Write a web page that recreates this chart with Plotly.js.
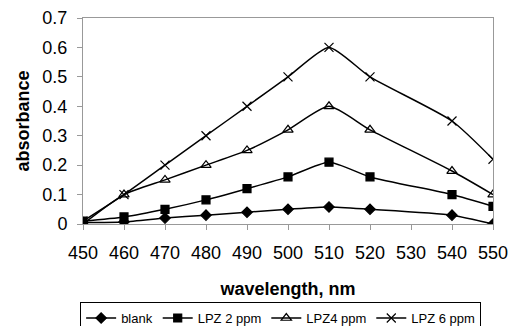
<!DOCTYPE html>
<html><head><meta charset="utf-8">
<script src="https://cdn.plot.ly/plotly-3.0.1.min.js"></script>
<style>html,body{margin:0;padding:0;background:#fff}</style>
</head><body><div id="chart" style="width:512px;height:326px"></div>
<script>
var wavelength = [450, 460, 470, 480, 490, 500, 510, 520, 540, 550];
var blank   = [0.005, 0.007, 0.02, 0.03, 0.04, 0.05, 0.058, 0.05, 0.03, 0.0];
var lpz2    = [0.01, 0.024, 0.05, 0.082, 0.12, 0.16, 0.21, 0.16, 0.1, 0.06];
var lpz4    = [0.0, 0.1, 0.15, 0.2, 0.25, 0.32, 0.4, 0.32, 0.18, 0.1];
var lpz6    = [0.01, 0.1, 0.2, 0.3, 0.4, 0.5, 0.6, 0.5, 0.35, 0.22];
var seriesNames = ['blank', 'LPZ 2 ppm', 'LPZ4 ppm', 'LPZ 6 ppm'];
var xTicks = [450, 460, 470, 480, 490, 500, 510, 520, 530, 540, 550];

function tr(y, name, sym, size, fill) {
  return {x: wavelength, y: y, name: name, type: 'scatter', mode: 'lines+markers',
    line: {color: '#000', width: 1.5, shape: 'spline', smoothing: 0.6},
    marker: {symbol: sym, size: size, color: fill, line: {color: '#000', width: 1.2}}};
}
var data = [
  tr(blank, seriesNames[0], 'diamond', 8, '#000'),
  tr(lpz2, seriesNames[1], 'square', 8, '#000'),
  tr(lpz4, seriesNames[2], 'triangle-up-open', 9, '#000'),
  tr(lpz6, seriesNames[3], 'x-thin-open', 9, '#000')
];
var font = 'Liberation Sans, Arial, sans-serif';
var layout = {
  width: 512, height: 326,
  margin: {l: 83, r: 19, t: 18, b: 102, autoexpand: false},
  paper_bgcolor: '#fff', plot_bgcolor: '#fff',
  font: {family: font, color: '#000', size: 18},
  showlegend: true,
  xaxis: {range: [450, 550], tickvals: xTicks, ticktext: xTicks.map(String),
    showgrid: false, zeroline: false, showline: true, linecolor: '#999', linewidth: 1, mirror: true,
    ticks: 'outside', ticklen: 5, tickcolor: '#999', tickfont: {size: 18, family: font},
    ticklabelstandoff: 7,
    title: {text: '<b>wavelength, nm</b>', font: {size: 18, family: font}, standoff: 20}},
  yaxis: {range: [0, 0.7], dtick: 0.1, tick0: 0,
    showgrid: false, zeroline: false, showline: true, linecolor: '#999', linewidth: 1, mirror: true,
    ticks: 'outside', ticklen: 5, tickcolor: '#999', tickfont: {size: 18, family: font},
    ticklabelstandoff: 6,
    title: {text: '<b>absorbance</b>', font: {size: 18, family: font}, standoff: 8}},
  legend: {orientation: 'h', x: -0.007, xanchor: 'left', y: -0.379, yanchor: 'top',
    bordercolor: '#000', borderwidth: 1, bgcolor: '#fff',
    font: {size: 13, family: font}, itemwidth: 30, tracegroupgap: 0, itemclick: false}
};
Plotly.newPlot('chart', data, layout, {displayModeBar: false, staticPlot: true});
</script></body></html>
